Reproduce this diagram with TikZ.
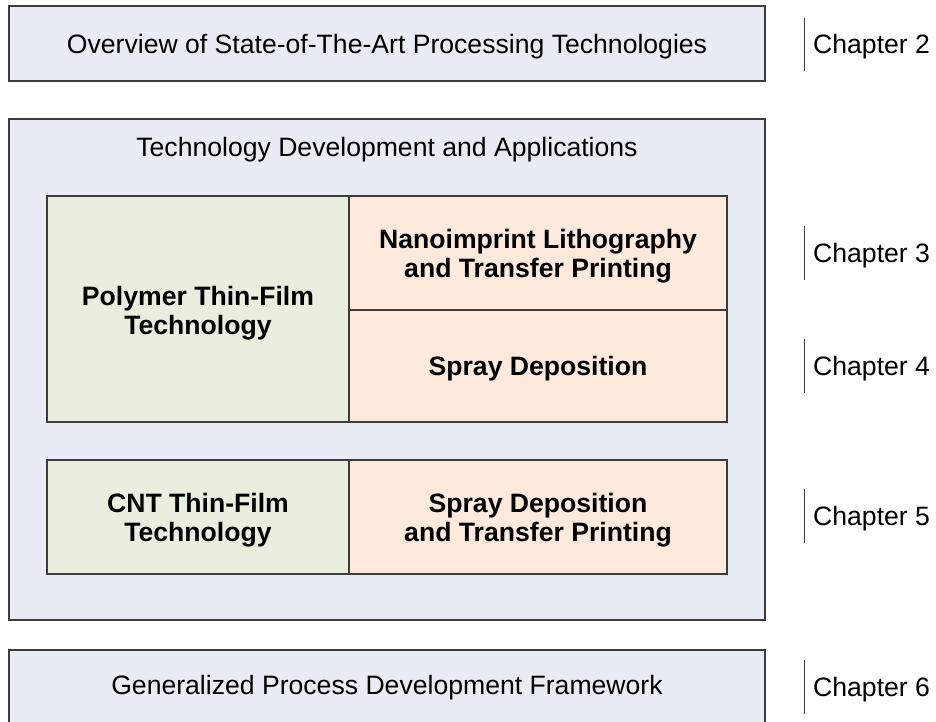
\documentclass[tikz,border=0pt]{standalone}
\usepackage{fontspec}
\setmainfont{Liberation Sans}
\definecolor{bluefill}{HTML}{E8ECF4}
\definecolor{greenfill}{HTML}{E8EFDF}
\definecolor{orangefill}{HTML}{FDEADC}
\definecolor{edgegray}{HTML}{3C3C3C}
\tikzset{
  panel/.style={draw=edgegray, line width=1.2pt, inner sep=0pt, outer sep=0pt, anchor=north west},
  outerbox/.style={panel, fill=bluefill},
  techbox/.style={panel, fill=greenfill},
  procbox/.style={panel, fill=orangefill},
  plaintext/.style={inner sep=0pt, align=center, font=\fontsize{26.6}{29}\selectfont},
  boldtext/.style={plaintext, font=\fontsize{26.6}{29}\selectfont\bfseries},
  chapbar/.style={draw=edgegray, line width=1pt},
  chaplabel/.style={anchor=west, inner sep=0pt, font=\fontsize{26.6}{29}\selectfont}
}
\begin{document}
\begin{tikzpicture}[x=1pt, y=-1pt]
  \useasboundingbox (0,0) rectangle (936,722);
  \begin{scope}
    \clip (0,0) rectangle (936,722);
    % outer panels
    \node[outerbox, minimum width=756pt, minimum height=75pt] (overview) at (9,6) {};
    \node[outerbox, minimum width=756pt, minimum height=501pt] (main) at (9,119) {};
    \node[outerbox, minimum width=756pt, minimum height=80pt] (framework) at (9,650) {};
    % polymer block
    \node[techbox, minimum width=302pt, minimum height=226pt] (polymer) at (47,196) {};
    \node[procbox, minimum width=378pt, minimum height=114pt] (nil) at (349,196) {};
    \node[procbox, minimum width=378pt, minimum height=112pt] (spray) at (349,310) {};
    % CNT block
    \node[techbox, minimum width=302pt, minimum height=114pt] (cnt) at (47,460) {};
    \node[procbox, minimum width=378pt, minimum height=114pt] (spraytp) at (349,460) {};
    % panel texts
    \node[plaintext] (overviewtext) at ([yshift=-3pt]overview.center)
      {Overview of State-of-The-Art Processing Technologies};
    \node[plaintext] (maintitle) at (387,150)
      {Technology Development and Applications};
    \node[plaintext] (frameworktext) at (387,688)
      {Generalized Process Development Framework};
    \node[boldtext] (polymertext) at ([yshift=-4pt]polymer.center)
      {Polymer Thin-Film\\Technology};
    \node[boldtext] (niltext) at ([yshift=-3pt]nil.center)
      {Nanoimprint Lithography\\and Transfer Printing};
    \node[boldtext] (spraytext) at ([yshift=-3pt]spray.center)
      {Spray Deposition};
    \node[boldtext] (cnttext) at ([yshift=-3pt]cnt.center)
      {CNT Thin-Film\\Technology};
    \node[boldtext] (spraytptext) at ([yshift=-3pt]spraytp.center)
      {Spray Deposition\\and Transfer Printing};
  \end{scope}
  % chapter markers
  \coordinate (b2t) at (804,18);  \coordinate (b2b) at (804,71);
  \coordinate (b3t) at (804,226); \coordinate (b3b) at (804,280);
  \coordinate (b4t) at (804,339); \coordinate (b4b) at (804,393);
  \coordinate (b5t) at (804,489); \coordinate (b5b) at (804,543);
  \coordinate (b6t) at (804,660); \coordinate (b6b) at (804,714);
  \draw[chapbar] (b2t) -- (b2b);
  \draw[chapbar] (b3t) -- (b3b);
  \draw[chapbar] (b4t) -- (b4b);
  \draw[chapbar] (b5t) -- (b5b);
  \draw[chapbar] (b6t) -- (b6b);
  \node[chaplabel] (ch2) at (813,47) {Chapter 2};
  \node[chaplabel] (ch3) at (813,256) {Chapter 3};
  \node[chaplabel] (ch4) at (813,369) {Chapter 4};
  \node[chaplabel] (ch5) at (813,519) {Chapter 5};
  \node[chaplabel] (ch6) at (813,690) {Chapter 6};
\end{tikzpicture}
\end{document}
